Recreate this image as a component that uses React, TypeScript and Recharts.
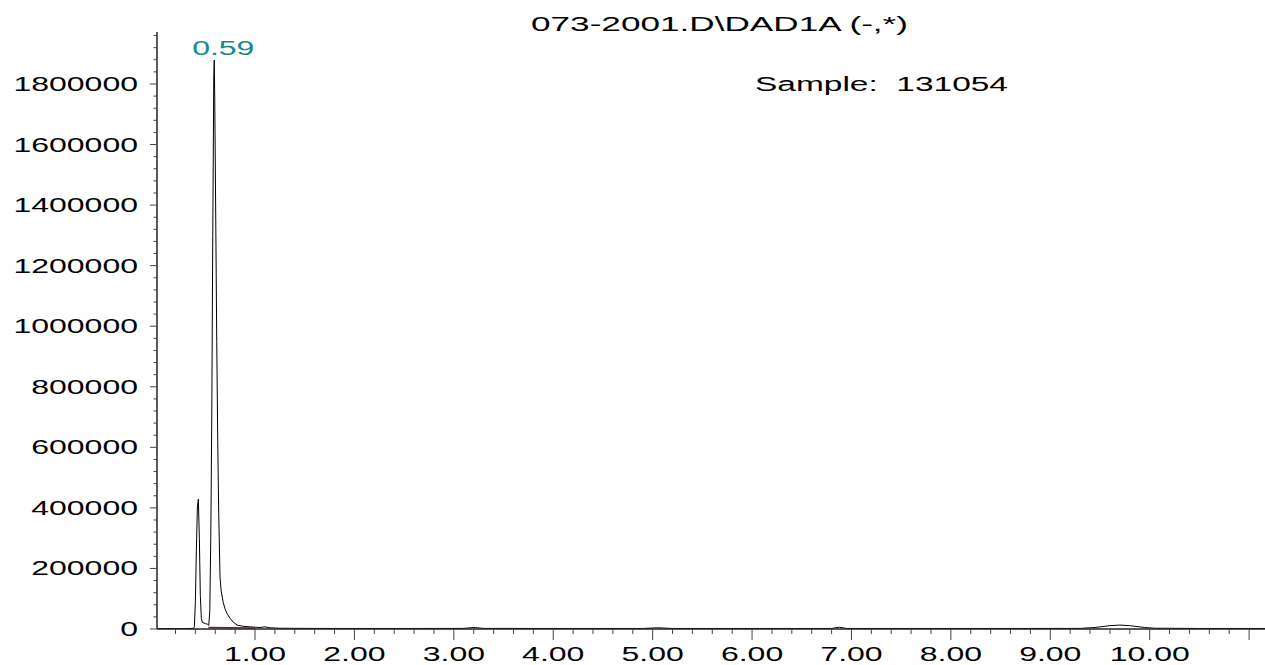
import React from "react";
import { LineChart, Line, XAxis, YAxis, ReferenceDot } from "recharts";

// retention time (min) and DAD1A signal
const times = [
  0.02, 0.3, 0.38, 0.39, 0.4, 0.41, 0.42, 0.43, 0.44, 0.45, 0.46, 0.47, 0.5, 0.52, 0.535, 0.545,
  0.555, 0.565, 0.575, 0.585, 0.59, 0.595, 0.605, 0.615, 0.625, 0.635, 0.648, 0.66, 0.68, 0.7,
  0.72, 0.75, 0.78, 0.82, 0.88, 0.95, 1.05, 1.1, 1.15, 1.25, 1.5, 2.0, 2.5, 3.1, 3.2, 3.3, 4.0,
  4.9, 5.05, 5.2, 6.0, 6.8, 6.88, 6.95, 7.5, 8.5, 9.3, 9.45, 9.6, 9.7, 9.8, 9.95, 10.05, 10.5,
  11.16,
];
const signal = [
  1500, 1500, 2000, 8000, 90000, 260000, 400000, 429000, 300000, 110000, 35000, 22000, 18000,
  16000, 12000, 60000, 300000, 700000, 1300000, 1820000, 1879000, 1750000, 1350000, 950000,
  620000, 380000, 170000, 125000, 88000, 65000, 50000, 35000, 23000, 13000, 9000, 7000, 5000,
  7000, 4000, 2500, 2000, 1800, 1800, 2000, 5000, 2000, 1800, 1800, 4000, 1800, 1800, 1800,
  6000, 1800, 1800, 1800, 2000, 5000, 11000, 13000, 11000, 5000, 2500, 1800, 1800,
];

// integration baseline (red)
const baseTimes = [0.53, 1.0];
const baseValues = [5000, 3500];

const peakTime = 0.59;
const peakValue = 1879000;
const peakLabel = "0.59";

const title = "073-2001.D\\DAD1A (-,*)";
const sampleText = "Sample:  131054";

const xMajor = [1, 2, 3, 4, 5, 6, 7, 8, 9, 10, 11];
const xLabels = ["1.00", "2.00", "3.00", "4.00", "5.00", "6.00", "7.00", "8.00", "9.00", "10.00"];
const yMajor = [0, 200000, 400000, 600000, 800000, 1000000, 1200000, 1400000, 1600000, 1800000];

const xTicks: number[] = [];
for (let i = 1; i <= 55; i++) xTicks.push(Math.round(i * 0.2 * 10) / 10);
const yTicks: number[] = [];
for (let i = 0; i <= 49; i++) yTicks.push(i * 40000);

const data = times.map((t, i) => ({ t, v: signal[i] }));
const baseData = baseTimes.map((t, i) => ({ t, v: baseValues[i] }));

const FONT = "'Liberation Sans', Arial, sans-serif";

function XTick(props: any) {
  const { x, y, payload } = props;
  const v = payload.value as number;
  const idx = xMajor.findIndex((m) => Math.abs(m - v) < 1e-6);
  const major = idx >= 0;
  return (
    <g>
      <line x1={x} y1={y} x2={x} y2={y + (major ? 11 : 5)} stroke="#444" strokeWidth={1} />
      {major && xLabels[idx] && (
        <g transform={`translate(${x},${y + 32})`}>
          <text transform="scale(1.6,1)" textAnchor="middle" fontSize={20} fontFamily={FONT} fill="#000">
            {xLabels[idx]}
          </text>
        </g>
      )}
    </g>
  );
}

function YTick(props: any) {
  const { x, y, payload } = props;
  const v = payload.value as number;
  const major = yMajor.includes(v);
  return (
    <g>
      <line x1={x - (major ? 7 : 3.5)} y1={y} x2={x} y2={y} stroke="#444" strokeWidth={1} />
      {major && (
        <g transform={`translate(${x - 19},${y + 7})`}>
          <text transform="scale(1.6,1)" textAnchor="end" fontSize={20} fontFamily={FONT} fill="#000">
            {String(v)}
          </text>
        </g>
      )}
    </g>
  );
}

function PeakLabel(props: any) {
  const { viewBox } = props;
  const cx = viewBox.x + (viewBox.width || 0) / 2;
  const cy = viewBox.y + (viewBox.height || 0) / 2;
  return (
    <g transform={`translate(${cx + 9},${cy - 5})`}>
      <text transform="scale(1.6,1)" textAnchor="middle" fontSize={20} fontFamily={FONT} fill="#168a8a">
        {peakLabel}
      </text>
    </g>
  );
}

export default function App() {
  return (
    <div style={{ position: "absolute", left: 0, top: 0, width: 1265, height: 665, background: "#fff" }}>
      <LineChart width={1265} height={665} data={data} margin={{ top: 32, right: 0, left: 0, bottom: 0 }}>
        <XAxis
          dataKey="t"
          type="number"
          domain={[0.014, 11.16]}
          allowDataOverflow
          ticks={xTicks}
          interval={0}
          tick={<XTick />}
          tickLine={false}
          tickSize={0}
          tickMargin={0}
          height={36}
          axisLine={{ stroke: "#222", strokeWidth: 1.5 }}
        />
        <YAxis
          type="number"
          domain={[0, 1971700]}
          allowDataOverflow
          ticks={yTicks}
          interval={0}
          tick={<YTick />}
          tickLine={false}
          tickSize={0}
          tickMargin={0}
          width={157}
          axisLine={{ stroke: "#222", strokeWidth: 1.5 }}
        />
        <Line
          type="linear"
          dataKey="v"
          stroke="#000"
          strokeWidth={1}
          dot={false}
          isAnimationActive={false}
        />
        <Line
          data={baseData}
          type="linear"
          dataKey="v"
          stroke="#a01010"
          strokeWidth={1.5}
          dot={false}
          isAnimationActive={false}
        />
        <ReferenceDot x={peakTime} y={peakValue} r={0} stroke="none" fill="none" label={<PeakLabel />} />
      </LineChart>
      <svg
        width={1265}
        height={665}
        style={{ position: "absolute", left: 0, top: 0, pointerEvents: "none" }}
      >
        <text x={531} y={31} fontSize={20} fontFamily={FONT} fill="#000" textLength={377} lengthAdjust="spacingAndGlyphs">
          {title}
        </text>
        <text
          x={755}
          y={91}
          fontSize={20}
          fontFamily={FONT}
          fill="#000"
          textLength={253}
          lengthAdjust="spacingAndGlyphs"
          style={{ whiteSpace: "pre" }}
        >
          {sampleText}
        </text>
      </svg>
    </div>
  );
}
